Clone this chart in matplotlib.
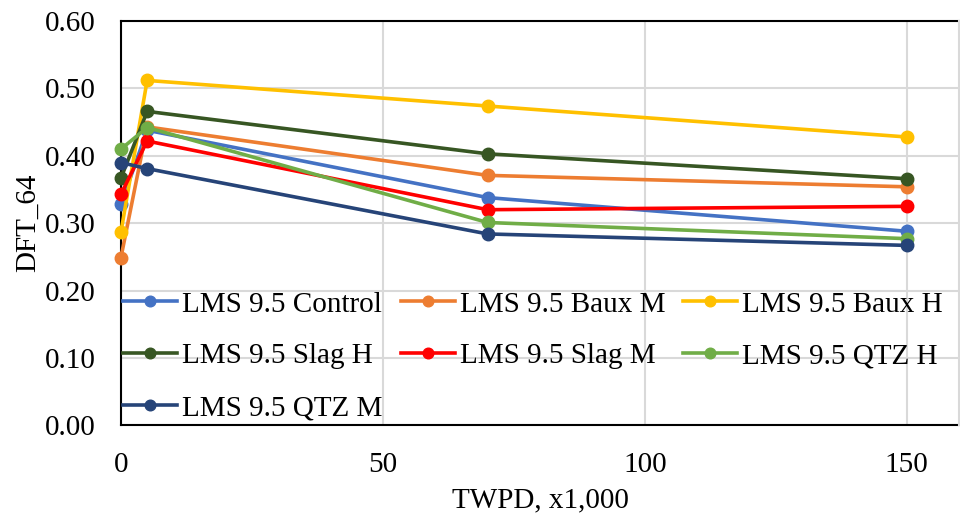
import matplotlib
matplotlib.use("Agg")
import matplotlib.pyplot as plt

plt.rcParams['font.family'] = ['Liberation Serif', 'DejaVu Serif']

# data
twpd = [0, 5, 70, 150]
labels = ["LMS 9.5 Control", "LMS 9.5 Baux M", "LMS 9.5 Baux H",
          "LMS 9.5 Slag H", "LMS 9.5 Slag M", "LMS 9.5 QTZ H",
          "LMS 9.5 QTZ M"]
control = [0.328, 0.438, 0.338, 0.288]
baux_m = [0.249, 0.443, 0.371, 0.354]
baux_h = [0.287, 0.512, 0.474, 0.428]
slag_h = [0.367, 0.466, 0.403, 0.366]
slag_m = [0.343, 0.422, 0.320, 0.325]
qtz_h = [0.410, 0.442, 0.301, 0.277]
qtz_m = [0.390, 0.381, 0.284, 0.267]
series = [control, baux_m, baux_h, slag_h, slag_m, qtz_h, qtz_m]
colors = ["#4472C4", "#ED7D31", "#FFC000", "#375623",
          "#FF0000", "#70AD47", "#264478"]

fig = plt.figure(figsize=(9.6, 5.16), dpi=100)
ax = fig.add_axes([0.126, 0.176, 0.873, 0.783])

handles = []
for vals, lab, c in zip(series, labels, colors):
    h, = ax.plot(twpd, vals, color=c, lw=2.6, marker='o', ms=9,
                 label=lab, clip_on=False)
    handles.append(h)

ax.set_xlim(0, 160)
ax.set_ylim(0, 0.6)
ax.set_xticks([0, 50, 100, 150])
ax.set_yticks([i / 10 for i in range(7)])
ax.set_yticklabels([f"{i / 10:.2f}" for i in range(7)])
ax.tick_params(length=0, labelsize=21)
ax.tick_params(axis='y', pad=18)
ax.tick_params(axis='x', pad=19)
ax.grid(True, color="#D9D9D9", lw=1.5)
ax.set_axisbelow(True)
for s in ['left', 'top', 'bottom']:
    ax.spines[s].set_color('black')
    ax.spines[s].set_linewidth(1.5)
    ax.spines[s].set_zorder(1.5)
ax.spines['right'].set_color('#D9D9D9')
ax.spines['right'].set_linewidth(1.5)

ax.set_xlabel("TWPD, x1,000", fontsize=21, labelpad=7)
ax.set_ylabel("DFT_64", fontsize=21, labelpad=3)

# row-wise legend order (matplotlib fills columns first)
order = [0, 3, 6, 1, 4, 2, 5]
ax.legend([handles[i] for i in order], [labels[i] for i in order],
          loc='lower left', bbox_to_anchor=(0.003, 0.01), ncol=3,
          frameon=False, fontsize=21, markerscale=0.85, handlelength=1.85,
          handletextpad=0.17, columnspacing=0.62, labelspacing=0.87,
          borderaxespad=0, borderpad=0)

fig.savefig("out.png", dpi=100)
